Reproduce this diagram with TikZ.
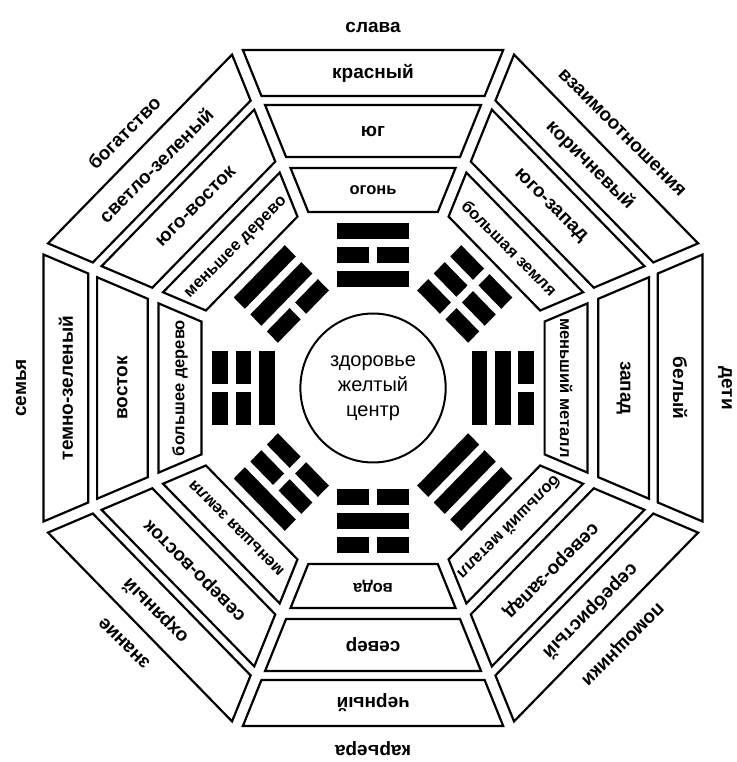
\documentclass[tikz,border=0pt]{standalone}
\usepackage{fontspec}
\setmainfont{Liberation Sans}
\tikzset{cell/.style={draw=black,line width=2.2pt},
    bar/.style={fill=black},
    word/.style={font=\bfseries\fontsize{19}{19}\selectfont,inner sep=0pt},
    smallword/.style={word,font=\bfseries\fontsize{16.5}{16.5}\selectfont}}

\begin{document}
\begin{tikzpicture}[x=1pt,y=1pt,xscale=0.975]
    \useasboundingbox (-382.6,-374) rectangle (372.3,388);
    \draw[line width=2pt] (0,0) circle (74.5);
    \node[align=center,font=\fontsize{20}{25}\selectfont] (C) at (0,0) {здоровье\\желтый\\центр};
    % angle / aspiration / colour / direction / element / trigram lines from inside out (1 = whole)
    \foreach \a/\lab/\col/\dir/\el/\ta/\tb/\tc [count=\i] in {
        90/слава/красный/юг/огонь/1/0/1,
        45/взаимоотношения/коричневый/юго-запад/большая земля/0/0/0,
        0/дети/белый/запад/меньший металл/1/1/0,
        -45/помощники/серебристый/северо-запад/больший металл/1/1/1,
        -90/карьера/черный/север/вода/0/1/0,
        -135/знание/охряный/северо-восток/меньшая земля/0/0/1,
        180/семья/темно-зеленый/восток/большее дерево/1/0/0,
        135/богатство/светло-зеленый/юго-восток/меньшее дерево/0/1/1}
    {
        \begin{scope}[rotate=\a-90]
            \foreach \r/\R in {176/220,231/283,292/338}
                \draw[cell] (-0.41421*\r+6.5,\r) -- (0.41421*\r-6.5,\r) -- (0.41421*\R-6.5,\R) -- (-0.41421*\R+6.5,\R) -- cycle;
            \foreach \t [count=\k] in {\ta,\tb,\tc}
            {
                \pgfmathsetmacro{\r}{77+24*\k}
                \ifnum\t=1
                    \fill[bar] (-37,\r) rectangle (37,\r+16);
                \else
                    \fill[bar] (-37,\r) rectangle (-4,\r+16);
                    \fill[bar] (4,\r) rectangle (37,\r+16);
                \fi
            }
            \node[smallword,rotate=\a-90] (el\i) at (0,198) {\el};
            \node[word,rotate=\a-90] (dir\i) at (0,257) {\dir};
            \node[word,rotate=\a-90] (col\i) at (0,315) {\col};
            \node[word,rotate=\a-90] (lab\i) at (0,361) {\lab};
        \end{scope}
    }
\end{tikzpicture}
\end{document}
